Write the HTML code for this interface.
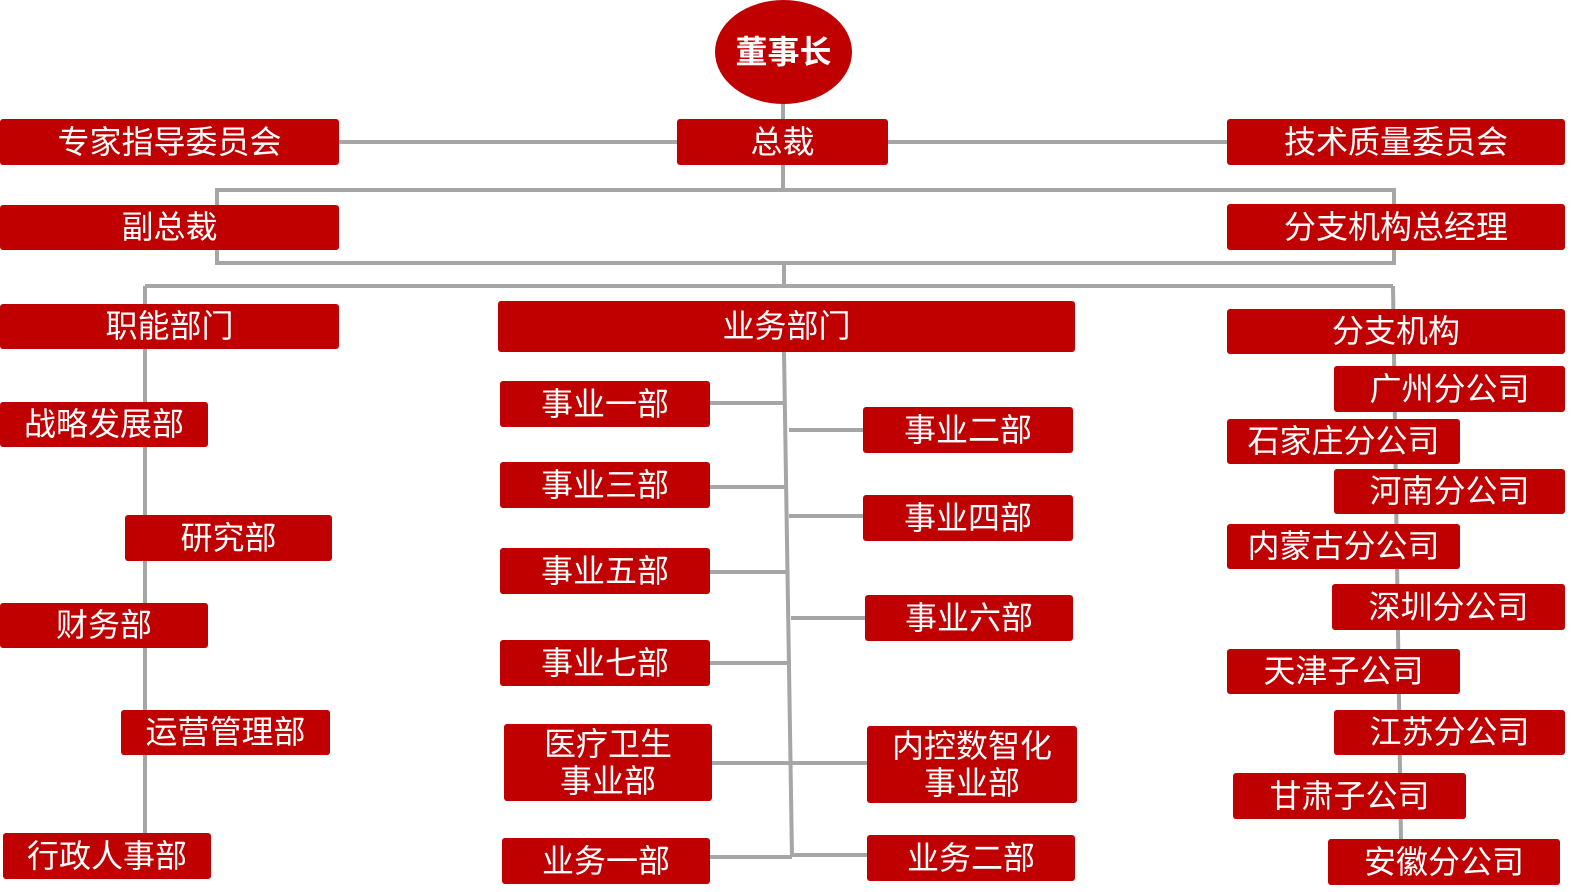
<!DOCTYPE html>
<html><head><meta charset="utf-8"><style>
body{margin:0;width:1580px;height:892px;background:#fff;position:relative;overflow:hidden;font-family:"Liberation Sans","Noto Sans CJK SC",sans-serif}
.b{position:absolute;background:#c00000;color:#fff;border-radius:3px;display:flex;align-items:center;justify-content:center;font-size:32px;line-height:37px;text-align:center;box-sizing:border-box;white-space:nowrap}
svg{position:absolute;left:0;top:0}
</style></head><body>
<svg width="1580" height="892" stroke="#a6a6a6" stroke-width="4" fill="none">
<line x1="783" y1="100" x2="783" y2="120"/>
<line x1="783" y1="164" x2="783" y2="190"/>
<line x1="339" y1="142" x2="677" y2="142"/>
<line x1="888" y1="142" x2="1227" y2="142"/>
<rect x="217" y="190" width="1177" height="73"/>
<line x1="784" y1="263" x2="784" y2="286"/>
<line x1="145" y1="286" x2="1393" y2="286"/>
<line x1="145" y1="286" x2="145" y2="834"/>
<line x1="1393" y1="286" x2="1401" y2="840"/>
<line x1="784" y1="352" x2="792" y2="857"/>
<line x1="710" y1="403" x2="784" y2="403"/>
<line x1="789" y1="430" x2="863" y2="430"/>
<line x1="710" y1="487" x2="786" y2="487"/>
<line x1="789" y1="516" x2="863" y2="516"/>
<line x1="710" y1="572" x2="786" y2="572"/>
<line x1="791" y1="618" x2="865" y2="618"/>
<line x1="710" y1="663" x2="789" y2="663"/>
<line x1="712" y1="763" x2="867" y2="763"/>
<line x1="710" y1="857" x2="792" y2="857"/>
<line x1="792" y1="855" x2="867" y2="855"/>
</svg>
<div class="b" style="left:715px;top:0;width:137px;height:104px;border-radius:50%;font-weight:bold">董事长</div>
<div class="b" style="left:0;top:119px;width:339px;height:46px">专家指导委员会</div>
<div class="b" style="left:677px;top:119px;width:211px;height:46px">总裁</div>
<div class="b" style="left:1227px;top:119px;width:338px;height:46px">技术质量委员会</div>
<div class="b" style="left:0;top:205px;width:339px;height:45px">副总裁</div>
<div class="b" style="left:1227px;top:204px;width:338px;height:46px">分支机构总经理</div>
<div class="b" style="left:0;top:304px;width:339px;height:45px">职能部门</div>
<div class="b" style="left:498px;top:301px;width:577px;height:51px">业务部门</div>
<div class="b" style="left:1227px;top:309px;width:338px;height:45px">分支机构</div>
<div class="b" style="left:0;top:402px;width:208px;height:45px">战略发展部</div>
<div class="b" style="left:125px;top:515px;width:207px;height:46px">研究部</div>
<div class="b" style="left:0;top:603px;width:208px;height:45px">财务部</div>
<div class="b" style="left:121px;top:710px;width:209px;height:45px">运营管理部</div>
<div class="b" style="left:3px;top:833px;width:208px;height:46px">行政人事部</div>
<div class="b" style="left:500px;top:381px;width:210px;height:46px">事业一部</div>
<div class="b" style="left:863px;top:407px;width:210px;height:46px">事业二部</div>
<div class="b" style="left:500px;top:462px;width:210px;height:46px">事业三部</div>
<div class="b" style="left:863px;top:495px;width:210px;height:46px">事业四部</div>
<div class="b" style="left:500px;top:548px;width:210px;height:46px">事业五部</div>
<div class="b" style="left:865px;top:595px;width:208px;height:46px">事业六部</div>
<div class="b" style="left:500px;top:640px;width:210px;height:46px">事业七部</div>
<div class="b" style="left:504px;top:724px;width:208px;height:77px">医疗卫生<br>事业部</div>
<div class="b" style="left:867px;top:726px;width:210px;height:77px">内控数智化<br>事业部</div>
<div class="b" style="left:502px;top:838px;width:208px;height:46px">业务一部</div>
<div class="b" style="left:867px;top:835px;width:208px;height:46px">业务二部</div>
<div class="b" style="left:1334px;top:366px;width:231px;height:46px">广州分公司</div>
<div class="b" style="left:1227px;top:419px;width:233px;height:45px">石家庄分公司</div>
<div class="b" style="left:1334px;top:469px;width:231px;height:45px">河南分公司</div>
<div class="b" style="left:1227px;top:524px;width:233px;height:45px">内蒙古分公司</div>
<div class="b" style="left:1332px;top:584px;width:233px;height:46px">深圳分公司</div>
<div class="b" style="left:1227px;top:649px;width:233px;height:45px">天津子公司</div>
<div class="b" style="left:1334px;top:710px;width:231px;height:45px">江苏分公司</div>
<div class="b" style="left:1233px;top:773px;width:233px;height:46px">甘肃子公司</div>
<div class="b" style="left:1328px;top:839px;width:232px;height:46px">安徽分公司</div>
</body></html>
